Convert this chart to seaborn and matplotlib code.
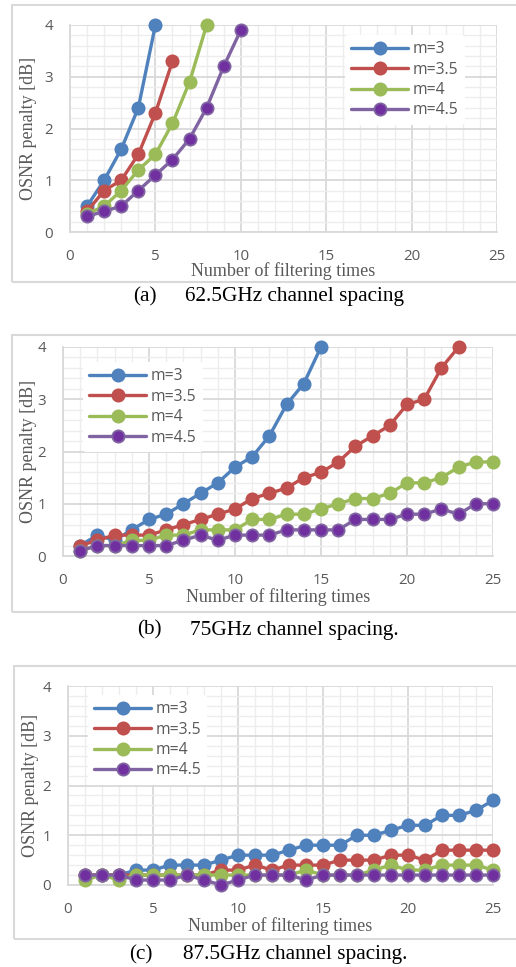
import numpy as np
import pandas as pd
import matplotlib
matplotlib.use("Agg")
import matplotlib.pyplot as plt
import seaborn as sns
from matplotlib.patches import Rectangle
from matplotlib.ticker import MultipleLocator

# ---------------- data ----------------
series_names = ["m=3", "m=3.5", "m=4", "m=4.5"]

# (a) 62.5 GHz
a_m3 = [0.5, 1.0, 1.6, 2.4, 4.0]
a_m35 = [0.4, 0.8, 1.0, 1.5, 2.3, 3.3]
a_m4 = [0.35, 0.5, 0.8, 1.2, 1.5, 2.1, 2.9, 4.0]
a_m45 = [0.3, 0.4, 0.5, 0.8, 1.1, 1.4, 1.8, 2.4, 3.2, 3.9]

# (b) 75 GHz
b_m3 = [0.2, 0.4, 0.3, 0.5, 0.7, 0.8, 1.0, 1.2, 1.4, 1.7, 1.9, 2.3, 2.9, 3.3, 4.0]
b_m35 = [0.2, 0.3, 0.4, 0.4, 0.4, 0.5, 0.6, 0.7, 0.8, 0.9, 1.1, 1.2, 1.3, 1.5,
         1.6, 1.8, 2.1, 2.3, 2.5, 2.9, 3.0, 3.6, 4.0]
b_m4 = [0.1, 0.2, 0.2, 0.3, 0.3, 0.4, 0.4, 0.5, 0.5, 0.5, 0.7, 0.7, 0.8, 0.8,
        0.9, 1.0, 1.1, 1.1, 1.2, 1.4, 1.4, 1.5, 1.7, 1.8, 1.8]
b_m45 = [0.1, 0.2, 0.2, 0.2, 0.2, 0.2, 0.3, 0.4, 0.3, 0.4, 0.4, 0.4, 0.5, 0.5,
         0.5, 0.5, 0.7, 0.7, 0.7, 0.8, 0.8, 0.9, 0.8, 1.0, 1.0]

# (c) 87.5 GHz
c_m3 = [0.2, 0.2, 0.2, 0.3, 0.3, 0.4, 0.4, 0.4, 0.5, 0.6, 0.6, 0.6, 0.7, 0.8,
        0.8, 0.8, 1.0, 1.0, 1.1, 1.2, 1.2, 1.4, 1.4, 1.5, 1.7]
c_m35 = [0.2, 0.2, 0.2, 0.2, 0.2, 0.2, 0.2, 0.2, 0.3, 0.3, 0.4, 0.3, 0.4, 0.4,
         0.4, 0.5, 0.5, 0.5, 0.6, 0.6, 0.5, 0.7, 0.7, 0.7, 0.7]
c_m4 = [0.1, 0.2, 0.1, 0.2, 0.2, 0.2, 0.2, 0.2, 0.2, 0.2, 0.2, 0.2, 0.2, 0.3,
        0.2, 0.2, 0.2, 0.3, 0.4, 0.3, 0.3, 0.4, 0.4, 0.4, 0.3]
c_m45 = [0.2, 0.2, 0.2, 0.1, 0.1, 0.1, 0.2, 0.1, 0.0, 0.1, 0.2, 0.2, 0.2, 0.1,
         0.2, 0.2, 0.2, 0.2, 0.2, 0.2, 0.2, 0.2, 0.2, 0.2, 0.2]

captions = [("(a)", "62.5GHz channel spacing"),
            ("(b)", "75GHz channel spacing."),
            ("(c)", "87.5GHz channel spacing.")]
x_label = "Number of filtering times"
y_label = "OSNR penalty [dB]"
x_ticks = [0, 5, 10, 15, 20, 25]
y_ticks = [0, 1, 2, 3, 4]

# ---------------- style ----------------
line_colors = ["#4F81BD", "#C0504D", "#9BBB59", "#8064A2"]
face_colors = ["#4F81BD", "#C0504D", "#9BBB59", "#7030A0"]

sns.set_theme(style="white")
plt.rcParams["font.family"] = ["Open Sans", "DejaVu Sans"]
SERIF = ["Liberation Serif", "DejaVu Serif"]
GRAY_TXT = "#595959"

W, H = 516, 967
fig = plt.figure(figsize=(W / 100, H / 100), dpi=100)


def fx(px):
    return px / W


def fy(py):
    return 1 - py / H


panels = [
    dict(data=[a_m3, a_m35, a_m4, a_m45], ax=(70, 497, 25, 232), frame=(12, 5, 282),
         leg=(0.644, 0.952), xl=-0.19, yl=-0.098, cap_y=297, cap_x=(133, 185)),
    dict(data=[b_m3, b_m35, b_m4, b_m45], ax=(63, 493, 347, 556), frame=(12, 335, 612),
         leg=(0.047, 0.928), xl=-0.196, yl=-0.081, cap_y=630, cap_x=(137, 190)),
    dict(data=[c_m3, c_m35, c_m4, c_m45], ax=(68, 493, 686, 885), frame=(14, 666, 939),
         leg=(0.047, 0.955), xl=-0.206, yl=-0.089, cap_y=955, cap_x=(129, 183)),
]

for p, (tag, cap) in zip(panels, captions):
    l, r, t, b = p["ax"]
    fl, ft, fb = p["frame"]
    fig.add_artist(Rectangle((fx(fl), fy(fb)), 1.2, (fb - ft) / H,
                             transform=fig.transFigure, fill=False,
                             edgecolor="#D9D9D9", lw=1.5, zorder=0))
    ax = fig.add_axes([fx(l), fy(b), (r - l) / W, (b - t) / H])
    ax.set_facecolor("white")
    for name, ys, lc, fc in zip(series_names, p["data"], line_colors, face_colors):
        xs = np.arange(1, len(ys) + 1)
        sns.lineplot(x=xs, y=ys, ax=ax, color=lc, marker="o", markersize=8.8,
                     markerfacecolor=fc, markeredgecolor=lc, markeredgewidth=1.3,
                     linewidth=2.4, label=name, clip_on=False, zorder=3)
    ax.set_xlim(0, 25)
    ax.set_ylim(0, 4)
    ax.set_xticks(x_ticks)
    ax.set_yticks(y_ticks)
    ax.xaxis.set_minor_locator(MultipleLocator(1))
    ax.yaxis.set_minor_locator(MultipleLocator(0.2))
    ax.grid(which="minor", color="#EDEDED", lw=1.0)
    ax.grid(which="major", color="#D9D9D9", lw=1.3)
    ax.set_axisbelow(True)
    for s in ["top", "right"]:
        ax.spines[s].set_visible(False)
    for s in ["left", "bottom"]:
        ax.spines[s].set_color("#D9D9D9")
        ax.spines[s].set_linewidth(1.3)
    ax.tick_params(which="major", length=5, width=1.3, color="#D9D9D9",
                   labelcolor=GRAY_TXT, labelsize=10.8, pad=7)
    ax.tick_params(which="minor", length=0)
    ax.set_xlabel(x_label, family=SERIF, fontsize=13, color=GRAY_TXT)
    ax.xaxis.label.set_va("center")
    ax.xaxis.set_label_coords(0.5, p["xl"])
    ax.set_ylabel(y_label, family=SERIF, fontsize=13, color=GRAY_TXT)
    ax.yaxis.label.set_va("center")
    ax.yaxis.set_label_coords(p["yl"], 0.5)
    leg = ax.legend(loc="upper left", bbox_to_anchor=p["leg"], frameon=True,
                    facecolor="white", edgecolor="none", framealpha=1,
                    fontsize=11.3, handlelength=3.6, labelspacing=0.28,
                    borderpad=0.4, handletextpad=0.3, labelcolor=GRAY_TXT,
                    borderaxespad=0)
    leg.set_zorder(5)
    fig.text(fx(p["cap_x"][0]), fy(p["cap_y"]), tag, family=SERIF, fontsize=15.3,
             color="black", ha="left", va="center")
    fig.text(fx(p["cap_x"][1]), fy(p["cap_y"]), cap, family=SERIF, fontsize=15.3,
             color="black", ha="left", va="center")

fig.savefig("out.png", dpi=100, facecolor="white")
